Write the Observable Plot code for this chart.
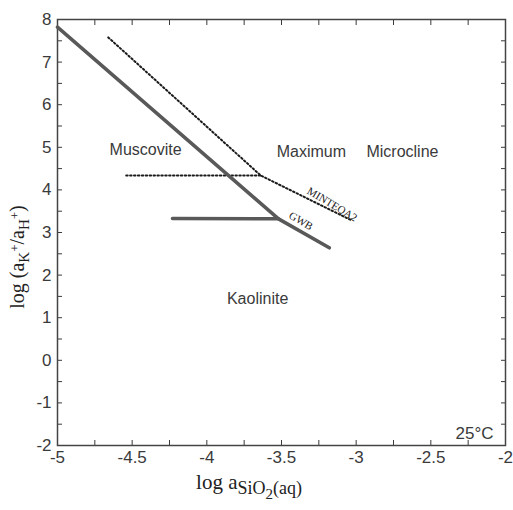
<!DOCTYPE html>
<html><head><meta charset="utf-8">
<script src="https://cdn.jsdelivr.net/npm/d3@7"></script>
<script src="https://cdn.jsdelivr.net/npm/@observablehq/plot@0.6"></script>
<style>body{margin:0;background:#fff}</style>
</head><body><div id="chart"></div>
<script>
// GWB boundaries (solid)
const gwbX = [-5, -3.52, -3.18];
const gwbY = [7.82, 3.32, 2.64];
const gwbFlatX = [-4.23, -3.52];
const gwbFlatY = [3.33, 3.32];
// MINTEQA2 boundaries (dotted)
const minteqX = [-4.66, -3.64, -3.04];
const minteqY = [7.58, 4.34, 3.30];
const minteqFlatX = [-4.54, -3.64];
const minteqFlatY = [4.34, 4.34];
// field labels
const fieldNames = ["Muscovite", "Maximum", "Microcline", "Kaolinite"];
const fieldX = [-4.41, -3.30, -2.69, -3.66];
const fieldY = [4.95, 4.90, 4.90, 1.45];
// curve labels
const curveNames = ["MINTEQA2", "GWB"];
const curveX = [-3.16, -3.37];
const curveY = [3.66, 3.27];
const tempLabel = "25°C";
// ticks
const xTickLabels = [-5, -4.5, -4, -3.5, -3, -2.5, -2];
const xTickMarks = [-4.75, -4.5, -4.25, -4, -3.75, -3.5, -3.25, -3, -2.75, -2.5, -2.25];
const yTickLabels = [-2, -1, 0, 1, 2, 3, 4, 5, 6, 7, 8];
const yTickMarks = [-1.5, -1, -0.5, 0, 0.5, 1, 1.5, 2, 2.5, 3, 3.5, 4, 4.5, 5, 5.5, 6, 6.5, 7, 7.5];

const pts = (xs, ys) => xs.map((x, i) => ({x, y: ys[i]}));
const ink = "#3a3a3a";
const dotted = {x: "x", y: "y", stroke: "#1a1a1a", strokeWidth: 2, strokeDasharray: "1.5,2.4"};

const svg = Plot.plot({
  width: 513,
  height: 510,
  marginLeft: 57,
  marginRight: 8,
  marginTop: 19,
  marginBottom: 65,
  style: {fontFamily: "'Liberation Sans', Arial, sans-serif", fontSize: "17px", color: ink, background: "#fff"},
  x: {domain: [-5, -2]},
  y: {domain: [-2, 8]},
  marks: [
    Plot.axisX({anchor: "bottom", ticks: xTickLabels, tickSize: 0, tickPadding: 5, fontSize: 17, tickFormat: d => String(d), label: null}),
    Plot.axisX({anchor: "bottom", ticks: xTickMarks, tickSize: -5, tickFormat: () => "", label: null}),
    Plot.axisX({anchor: "top", ticks: xTickMarks, tickSize: -5, tickFormat: () => "", label: null}),
    Plot.axisY({anchor: "left", ticks: yTickLabels, tickSize: 0, tickPadding: 6, fontSize: 17, tickFormat: d => String(d), label: null}),
    Plot.axisY({anchor: "left", ticks: yTickMarks, tickSize: -5, tickFormat: () => "", label: null}),
    Plot.axisY({anchor: "right", ticks: yTickMarks, tickSize: -5, tickFormat: () => "", label: null}),
    Plot.frame({stroke: "#444", strokeWidth: 1.5}),
    Plot.line(pts(minteqX, minteqY), dotted),
    Plot.line(pts(minteqFlatX, minteqFlatY), dotted),
    Plot.line(pts(gwbX, gwbY), {x: "x", y: "y", stroke: "#595959", strokeWidth: 3.5, strokeLinecap: "round"}),
    Plot.line(pts(gwbFlatX, gwbFlatY), {x: "x", y: "y", stroke: "#595959", strokeWidth: 3.5}),
    Plot.text(fieldNames.map((t, i) => ({t, x: fieldX[i], y: fieldY[i]})), {x: "x", y: "y", text: "t", fontSize: 16, fill: ink}),
    Plot.text(curveNames.map((t, i) => ({t, x: curveX[i], y: curveY[i]})), {x: "x", y: "y", text: "t", fontSize: 11, fontFamily: "'Liberation Serif', 'Times New Roman', serif", rotate: 31, fill: "#222"}),
    Plot.text([tempLabel], {frameAnchor: "bottom-right", dx: -12, dy: -7, lineAnchor: "bottom", textAnchor: "end", fontSize: 17, fill: ink})
  ]
});

const s = d3.select(svg);
// y-axis title
const yt = s.append("text")
  .attr("transform", "translate(24,257) rotate(-90)")
  .attr("text-anchor", "middle")
  .attr("font-family", "'Liberation Serif', 'Times New Roman', serif")
  .attr("font-size", 20)
  .attr("fill", "#222");
yt.append("tspan").text("log (a");
yt.append("tspan").attr("dy", 5).attr("font-size", 15).text("K");
yt.append("tspan").attr("dy", -10).attr("font-size", 13).text("+");
yt.append("tspan").attr("dy", 5).text("/a");
yt.append("tspan").attr("dy", 5).attr("font-size", 15).text("H");
yt.append("tspan").attr("dy", -10).attr("font-size", 13).text("+");
yt.append("tspan").attr("dy", 5).text(")");
// x-axis title
const xt = s.append("text")
  .attr("x", 249).attr("y", 489)
  .attr("text-anchor", "middle")
  .attr("font-family", "'Liberation Serif', 'Times New Roman', serif")
  .attr("font-size", 21)
  .attr("fill", "#222");
xt.append("tspan").text("log a");
xt.append("tspan").attr("dy", 5).attr("font-size", 18).text("SiO");
xt.append("tspan").attr("dy", 5).attr("font-size", 15).text("2");
xt.append("tspan").attr("dy", -5).attr("font-size", 18).text("(aq)");

document.getElementById("chart").appendChild(svg);
</script>
</body></html>
